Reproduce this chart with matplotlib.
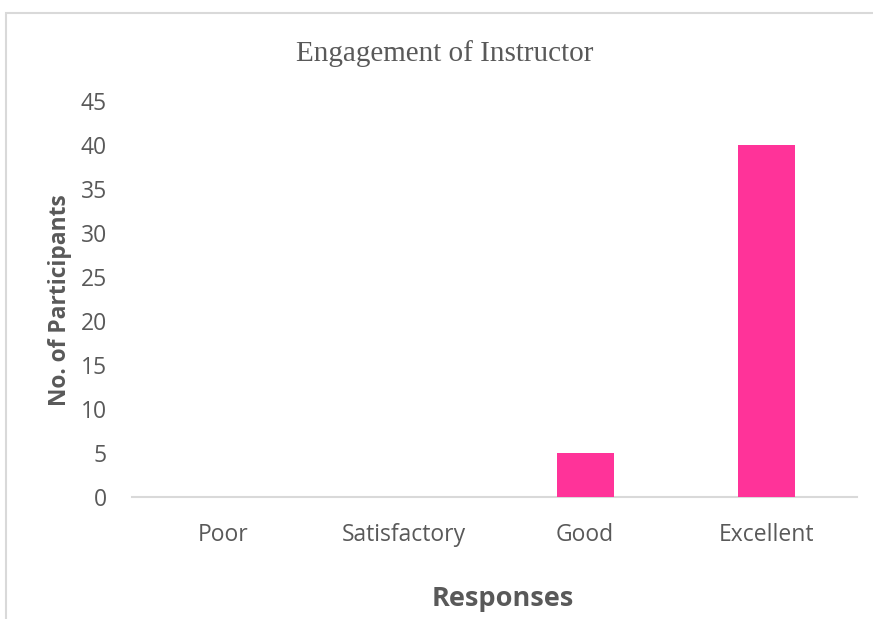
import matplotlib
matplotlib.use("Agg")
import matplotlib.pyplot as plt
from matplotlib.patches import Rectangle

categories = ["Poor", "Satisfactory", "Good", "Excellent"]
participants = [0, 0, 5, 40]
y_ticks = list(range(0, 46, 5))

grey_text = "#595959"
bar_color = "#FF3399"

fig = plt.figure(figsize=(8.73, 6.19), dpi=100)
ax = fig.add_axes([132 / 873, 1 - 497 / 619, (857 - 132) / 873, (497 - 101) / 619])

# outer chart border (right and bottom edges are cut off in the original)
fig.patches.append(Rectangle((6 / 873, -0.1), 1.2, 1.1 - 13 / 619, transform=fig.transFigure,
                             fill=False, edgecolor="#D9D9D9", linewidth=1.5))

x = range(len(categories))
ax.bar(x, participants, width=0.315, color=bar_color, zorder=3)

ax.set_xlim(-0.5, len(categories) - 0.5)
ax.set_ylim(0, 45)
ax.set_yticks(y_ticks)
ax.set_xticks(list(x))
ax.set_xticklabels(categories)

for side in ["top", "right", "left"]:
    ax.spines[side].set_visible(False)
ax.spines["bottom"].set_color("#D9D9D9")
ax.spines["bottom"].set_linewidth(1.5)

ax.tick_params(axis="both", length=0, labelsize=16.5, labelcolor=grey_text)
ax.tick_params(axis="y", pad=18)
ax.tick_params(axis="x", pad=19)
for lab in ax.get_xticklabels() + ax.get_yticklabels():
    lab.set_family("Open Sans")

fig.text(445 / 873, 1 - 54 / 619, "Engagement of Instructor", ha="center", va="center",
         fontsize=21, family="Liberation Serif", color=grey_text)
fig.text(60 / 873, 1 - 300 / 619, "No. of Participants", ha="center", va="center",
         rotation=90, fontsize=16.4, fontweight="bold", family="Open Sans", color=grey_text)
fig.text(503 / 873, 1 - 599 / 619, "Responses", ha="center", va="center",
         fontsize=19.5, fontweight="bold", family="Open Sans", color=grey_text)

fig.savefig("out.png", dpi=100, facecolor="white")
